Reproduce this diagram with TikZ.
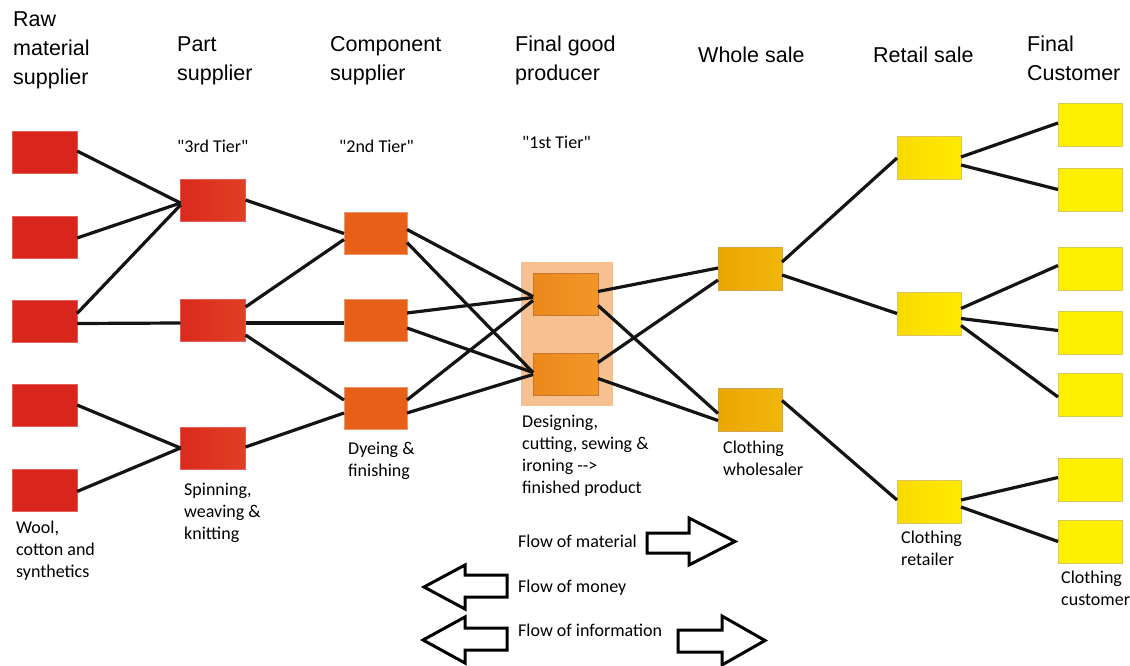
\documentclass[tikz,border=0pt]{standalone}
\usepackage{fontspec}
\usetikzlibrary{calc}
\newfontfamily\headfam{Liberation Sans}
\newfontfamily\lblfam{Carlito}
\newcommand\mylines[1]{\begin{tabular}[t]{@{}l@{}}#1\end{tabular}}
\newcommand\edgeline[4]{\draw[conn] ($(#1.east)+(0,#2)$) -- ($(#3.west)+(0,#4)$);}
\definecolor{rawc}{RGB}{217,38,28}
\definecolor{rawb}{RGB}{228,95,85}
\definecolor{partl}{RGB}{217,42,30}
\definecolor{partr}{RGB}{224,64,36}
\definecolor{compc}{RGB}{231,96,26}
\definecolor{compb}{RGB}{238,150,105}
\definecolor{finl}{RGB}{236,136,28}
\definecolor{finr}{RGB}{241,150,40}
\definecolor{finb}{RGB}{196,120,50}
\definecolor{hlc}{RGB}{246,192,145}
\definecolor{whl}{RGB}{236,166,0}
\definecolor{whr}{RGB}{241,182,12}
\definecolor{whb}{RGB}{212,165,70}
\definecolor{retl}{RGB}{249,218,0}
\definecolor{retr}{RGB}{255,234,0}
\definecolor{retb}{RGB}{218,198,90}
\definecolor{custc}{RGB}{255,240,0}
\definecolor{custb}{RGB}{214,200,90}
\tikzset{
  box/.style={draw, line width=0.8pt, minimum width=65pt, minimum height=42pt, inner sep=0pt, outer sep=0pt},
  rawbox/.style={box, fill=rawc, draw=rawb},
  partbox/.style={box, left color=partl, right color=partr, draw=rawb},
  compbox/.style={box, minimum width=63pt, fill=compc, draw=compb},
  finbox/.style={box, left color=finl, right color=finr, draw=finb},
  whbox/.style={box, minimum width=64pt, minimum height=43pt, left color=whl, right color=whr, draw=whb},
  retbox/.style={box, minimum width=64pt, minimum height=43pt, left color=retl, right color=retr, draw=retb},
  custbox/.style={box, minimum width=64pt, minimum height=43pt, fill=custc, draw=custb},
  conn/.style={line width=3.2pt, black!92},
  head/.style={font=\headfam\fontsize{21.5}{29}\selectfont, anchor=base west, inner sep=0pt},
  lbl/.style={font=\lblfam\fontsize{18}{22}\selectfont, anchor=base west, inner sep=0pt},
  flowarrow/.style={draw=black, line width=3pt, line join=miter, fill=white},
}
\begin{document}
\begin{tikzpicture}[x=1pt,y=-1pt]
\useasboundingbox (0,0) rectangle (1130,666);
\fill[white] (0,0) rectangle (1130,666);

% headings
\node[head] (h1) at (13,27) {\mylines{Raw\\material\\supplier}};
\node[head] (h2) at (177,52) {\mylines{Part\\supplier}};
\node[head] (h3) at (330,52) {\mylines{Component\\supplier}};
\node[head] (h4) at (515,52) {\mylines{Final good\\producer}};
\node[head] (h5) at (698,63) {Whole sale};
\node[head] (h6) at (873,63) {Retail sale};
\node[head] (h7) at (1027,52) {\mylines{Final\\Customer}};

% tier labels
\node[lbl] (t3) at (177,153) {"3rd Tier"};
\node[lbl] (t2) at (339,153) {"2nd Tier"};
\node[lbl] (t1) at (522,149) {"1st Tier"};

% highlight behind final good producer
\node[fill=hlc, inner sep=0pt, minimum width=92pt, minimum height=144pt] (hl) at (567,334) {};

% raw material
\node[rawbox] (r1) at (44.5,152) {};
\node[rawbox] (r2) at (44.5,237) {};
\node[rawbox] (r3) at (44.5,321.5) {};
\node[rawbox] (r4) at (44.5,405) {};
\node[rawbox] (r5) at (44.5,490.5) {};
% part
\node[partbox] (p1) at (213,200) {};
\node[partbox] (p2) at (213,320) {};
\node[partbox] (p3) at (213,448) {};
% component
\node[compbox] (c1) at (375.5,233.5) {};
\node[compbox] (c2) at (375.5,320) {};
\node[compbox] (c3) at (375.5,408) {};
% final good
\node[finbox] (f1) at (565.5,294.5) {};
\node[finbox] (f2) at (565.5,374.5) {};
% wholesale
\node[whbox] (w1) at (750,269) {};
\node[whbox] (w2) at (750,409.5) {};
% retail
\node[retbox] (s1) at (929,158) {};
\node[retbox] (s2) at (929,313.5) {};
\node[retbox] (s3) at (929,502) {};
% customers
\node[custbox] (k1) at (1090,125) {};
\node[custbox] (k2) at (1090,189.5) {};
\node[custbox] (k3) at (1090,268.5) {};
\node[custbox] (k4) at (1090,332.5) {};
\node[custbox] (k5) at (1090,395) {};
\node[custbox] (k6) at (1090,479.5) {};
\node[custbox] (k7) at (1090,541.5) {};

% connectors
\edgeline{r1}{-1}{p1}{3}
\edgeline{r2}{1}{p1}{3}
\edgeline{r3}{-8}{p1}{5}
\edgeline{r3}{2}{p2}{3}
\edgeline{r4}{0}{p3}{0}
\edgeline{r5}{1}{p3}{0}
\edgeline{p1}{0}{c1}{0}
\edgeline{p2}{-13}{c1}{6}
\edgeline{p2}{3}{c2}{3}
\edgeline{p2}{15}{c3}{-8}
\edgeline{p3}{-1}{c3}{5}
\edgeline{c1}{-4}{f1}{2}
\edgeline{c1}{9}{f2}{-2}
\edgeline{c2}{-7}{f1}{3}
\edgeline{c2}{8}{f2}{-2}
\edgeline{c3}{-8}{f1}{6}
\edgeline{c3}{5}{f2}{0}
\edgeline{f1}{-3}{w1}{-1}
\edgeline{f1}{11}{w2}{4}
\edgeline{f2}{-12}{w1}{11}
\edgeline{f2}{4}{w2}{11}
\edgeline{w1}{-7}{s1}{0}
\edgeline{w1}{6}{s2}{0}
\edgeline{w2}{-9}{s3}{-2}
\edgeline{s1}{-1}{k1}{-2}
\edgeline{s1}{7}{k2}{0}
\edgeline{s2}{-5}{k3}{-3}
\edgeline{s2}{5}{k4}{-2}
\edgeline{s2}{12}{k5}{2}
\edgeline{s3}{-2}{k6}{-2}
\edgeline{s3}{5}{k7}{0}

% lower labels
\node[lbl] (l1) at (16,533) {\mylines{Wool,\\cotton and\\synthetics}};
\node[lbl] (l2) at (184,495) {\mylines{Spinning,\\weaving \&\\knitting}};
\node[lbl] (l3) at (348,454) {\mylines{Dyeing \&\\finishing}};
\node[lbl] (l4) at (522,427) {\mylines{Designing,\\cutting, sewing \&\\ironing -->\\finished product}};
\node[lbl] (l5) at (723,453) {\mylines{Clothing\\wholesaler}};
\node[lbl] (l6) at (901,543) {\mylines{Clothing\\retailer}};
\node[lbl] (l7) at (1061,583) {\mylines{Clothing\\customer}};

% flow legend
\node[lbl] (fm) at (518,547) {Flow of material};
\node[lbl] (fy) at (518,592) {Flow of money};
\node[lbl] (fi) at (518,636) {Flow of information};
\draw[flowarrow] (647,533) -- (689,533) -- (689,518) -- (735,541.5) -- (689,565) -- (689,553) -- (647,553) -- cycle;
\draw[flowarrow] (507,575) -- (465,575) -- (465,565) -- (424,587) -- (465,609) -- (465,597) -- (507,597) -- cycle;
\draw[flowarrow] (507,628) -- (465,628) -- (465,617) -- (423,640) -- (465,663) -- (465,650) -- (507,650) -- cycle;
\draw[flowarrow] (678,630) -- (722,630) -- (722,616) -- (765,640.5) -- (722,665) -- (722,652) -- (678,652) -- cycle;
\end{tikzpicture}
\end{document}
